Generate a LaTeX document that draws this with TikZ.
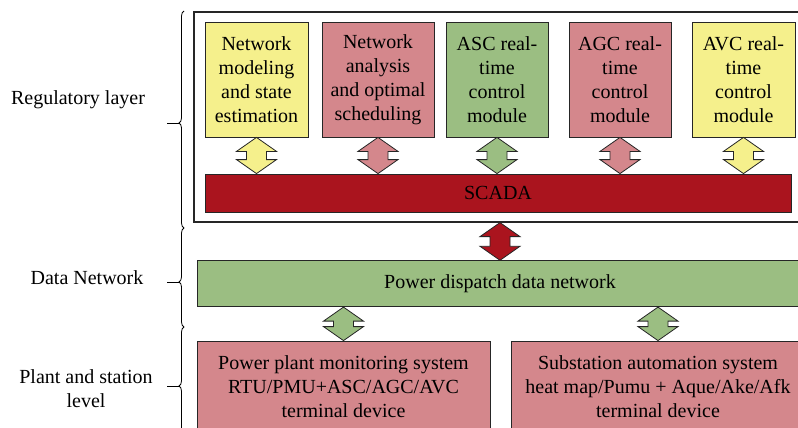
\documentclass[tikz,border=0pt]{standalone}
\usepackage{fontspec}
\setmainfont{Liberation Serif}
\usepackage{tikz}
\usetikzlibrary{positioning,calc,decorations.pathreplacing}

\definecolor{yellowfill}{RGB}{245,240,140}
\definecolor{pinkfill}{RGB}{212,135,140}
\definecolor{greenfill}{RGB}{155,190,130}
\definecolor{redfill}{RGB}{170,20,30}

\newcommand{\dblarrow}[3]{%
  \path[draw=black!85,line width=0.8pt,fill=#3] let \p1=(#1), \p2=(#2) in
    (\x1,\y1) -- (\x1+20pt,\y1-14pt) -- (\x1+10pt,\y1-14pt) -- (\x1+10pt,\y2+14pt)
    -- (\x1+20pt,\y2+14pt) -- (\x1,\y2) -- (\x1-20pt,\y2+14pt) -- (\x1-10pt,\y2+14pt)
    -- (\x1-10pt,\y1-14pt) -- (\x1-20pt,\y1-14pt) -- cycle;}

\begin{document}
\begin{tikzpicture}[x=1pt,y=-1pt,
    every node/.style={font=\rmfamily\fontsize{20}{24}\selectfont},
    box/.style={draw=black!85,line width=0.8pt,align=center,inner sep=0pt},
    module/.style={box,minimum height=115pt},
    wide/.style={box,minimum height=46pt},
    station/.style={box,minimum width=294pt,minimum height=92pt},
    brc/.style={decorate,decoration={brace,amplitude=5pt,aspect=#1},line width=0.8pt},
    layer/.style={align=center}]

    \useasboundingbox (0,0) rectangle (798,428);
    \clip (0,0) rectangle (798,428);

    % Regulatory layer
    \node [box,line width=1.2pt,minimum width=609pt,minimum height=210pt] at (498.5,117) (reg) {};
    \node [module,fill=yellowfill,minimum width=103pt] at (256.5,79.5) (netmod) {Network\\modeling\\and state\\estimation};
    \node [module,fill=pinkfill,minimum width=112pt] at (378,79.5) (netana) {Network\\analysis\\and optimal\\scheduling};
    \node [module,fill=greenfill,minimum width=102pt] at (497,79.5) (asc) {ASC real-\\time\\control\\module};
    \node [module,fill=pinkfill,minimum width=102pt] at (620,79.5) (agc) {AGC real-\\time\\control\\module};
    \node [module,fill=yellowfill,minimum width=103pt] at (743.5,79.5) (avc) {AVC real-\\time\\control\\module};
    \node [box,fill=redfill,minimum width=586pt,minimum height=38pt] at (498,193) (scada) {SCADA};

    % Data network and stations
    \node [wide,fill=greenfill,minimum width=606pt] at (500,283.7) (net) {Power dispatch data network};
    \node [station,fill=pinkfill,minimum width=293pt] at (343.5,387) (plant) {Power plant monitoring system\\RTU/PMU+ASC/AGC/AVC\\terminal device};
    \node [station,fill=pinkfill] at (658,387) (subst) {Substation automation system\\heat map/Pumu + Aque/Ake/Afk\\terminal device};

    % Block arrows
    \dblarrow{netmod.south}{netmod.south |- scada.north}{yellowfill}
    \dblarrow{netana.south}{netana.south |- scada.north}{pinkfill}
    \dblarrow{asc.south}{asc.south |- scada.north}{greenfill}
    \dblarrow{agc.south}{agc.south |- scada.north}{pinkfill}
    \dblarrow{avc.south}{avc.south |- scada.north}{yellowfill}
    \dblarrow{net.north |- reg.south}{net.north}{redfill}
    \dblarrow{plant.north |- net.south}{plant.north}{greenfill}
    \dblarrow{subst.north |- net.south}{subst.north}{greenfill}

    % Layer braces
    \draw[brc=0.484] (184,228) -- node[pos=0.484,coordinate] (regtip) {} (184,11);
    \draw[brc=0.455] (184,327) -- node[pos=0.455,coordinate] (nettip) {} (184,228);
    \draw[brc=0.5] (184,445) -- node[pos=0.5,coordinate] (planttip) {} (184,327);
    \draw[line width=0.8pt] ([xshift=-5pt]regtip) -- ++(-12,0);
    \draw[line width=0.8pt] ([xshift=-5pt]nettip) -- ++(-12,0);
    \draw[line width=0.8pt] ([xshift=-5pt]planttip) -- ++(-12,0);

    \node [layer] at (78,100) (reglabel) {Regulatory layer};
    \node [layer] at (87,278) (netlabel) {Data Network};
    \node [layer] at (86,389) (plantlabel) {Plant and station\\level};
\end{tikzpicture}
\end{document}
